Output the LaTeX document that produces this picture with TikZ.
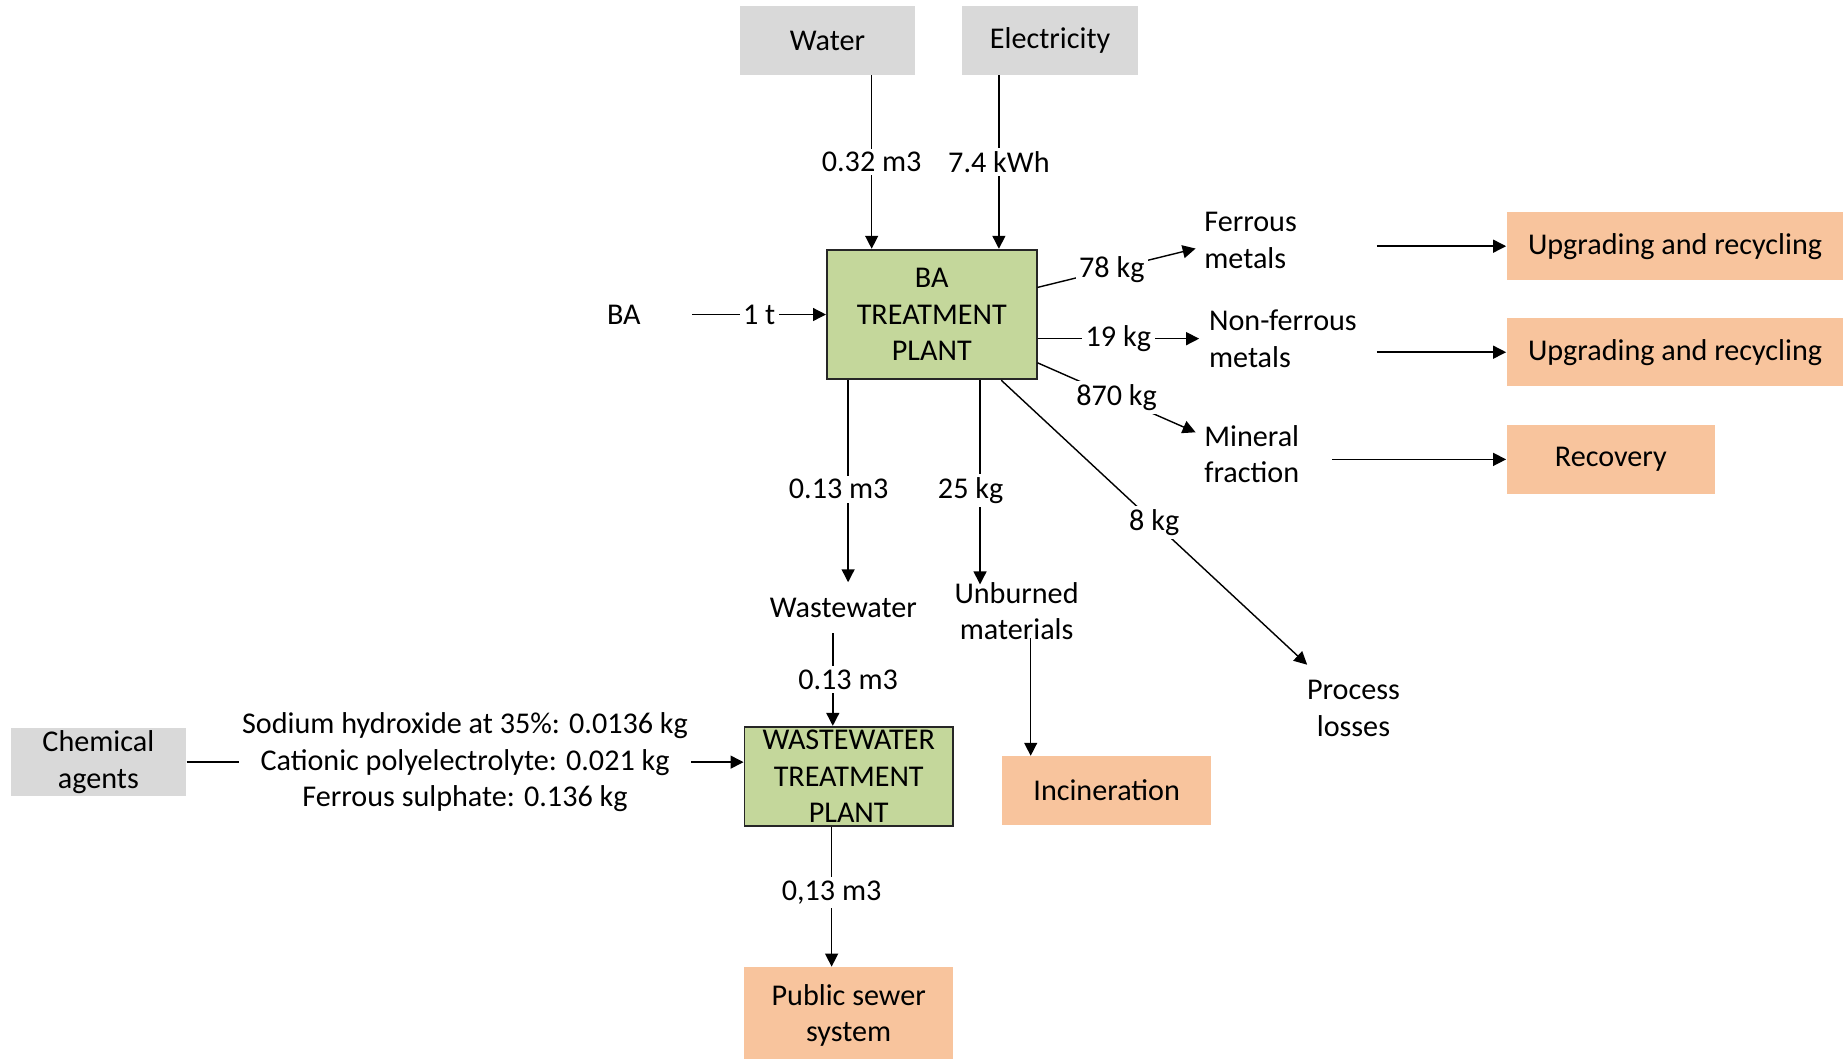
\documentclass[tikz,border=0pt]{standalone}
\usepackage{fontspec}
\setmainfont{Carlito}
\usetikzlibrary{arrows.meta}
\definecolor{inputgray}{HTML}{D9D9D9}
\definecolor{plantgreen}{HTML}{C4D79B}
\definecolor{plantedge}{HTML}{262626}
\definecolor{outorange}{HTML}{F8C49D}
\tikzset{
  inbox/.style={fill=inputgray, minimum width=74.5pt, minimum height=29pt, inner sep=0pt, align=center},
  plantbox/.style={draw=plantedge, fill=plantgreen, line width=0.8pt, inner sep=0pt, align=center},
  outbox/.style={fill=outorange, minimum height=29pt, inner sep=0pt, align=center},
  txt/.style={inner sep=2pt, align=center},
  lefttxt/.style={inner sep=2pt, align=left, anchor=west},
  lbl/.style={fill=white, inner sep=1.5pt},
  flow/.style={-{Triangle[length=5.5pt,width=5.5pt]}, line width=0.6pt}
}
\begin{document}
\begin{tikzpicture}[x=0.5pt,y=0.5pt,yscale=-1,xscale=1,font=\fontsize{12.8pt}{15.5pt}\selectfont]
\useasboundingbox (0,0) rectangle (1568,899);
\node [inbox] (water) at (702.5,34.5) {Water};
\node [inbox] (elec) at (891.5,34.5) {Electricity};
\node [plantbox, minimum width=89pt, minimum height=55pt] (ba) at (791,267) {BA\\TREATMENT\\PLANT};
\node [lefttxt, text width=34pt] (bain) at (511,267) {BA};
\node [lefttxt, text width=71pt] (ferrous) at (1018,204) {Ferrous\\metals};
\node [lefttxt, text width=69pt] (nonfe) at (1022,287.5) {Non-ferrous\\metals};
\node [lefttxt, text width=52pt] (mineral) at (1018,385.5) {Mineral\\fraction};
\node [txt] (loss) at (1149,601.5) {Process\\losses};
\node [txt] (ww) at (716,516) {Wastewater};
\node [txt] (unburned) at (863,519) {Unburned\\materials};
\node [outbox, minimum width=143pt] (up1) at (1422,209) {Upgrading and recycling};
\node [outbox, minimum width=143pt] (up2) at (1422,299) {Upgrading and recycling};
\node [outbox, minimum width=88.5pt] (rec) at (1367.5,390) {Recovery};
\node [outbox, minimum width=88.5pt] (incin) at (939.5,671) {Incineration};
\node [plantbox, minimum width=88.5pt, minimum height=42pt] (wwtp) at (720.5,659) {WASTEWATER\\TREATMENT\\PLANT};
\node [outbox, minimum width=88.5pt, minimum height=41pt] (sewer) at (720.5,862) {Public sewer\\system};
\node [inbox] (chem) at (83.5,647) {Chemical\\agents};

\draw [flow] ([shift={(37.5,0)}]water.south) -- node[lbl]{0.32 m3} ([shift={(-51,0)}]ba.north);
\draw [flow] ([shift={(-43.5,0)}]elec.south) -- node[lbl]{7.4 kWh} ([shift={(57,0)}]ba.north);
\draw [flow] (bain.east) -- node[lbl]{1 t} (ba.west);
\draw [flow] ([shift={(0,-23)}]ba.east) -- node[lbl, pos=0.47]{78 kg} ([shift={(-3,7)}]ferrous.west);
\draw [flow] (ba.east |- nonfe.west) -- node[lbl]{19 kg} ([shift={(-4,0)}]nonfe.west);
\draw [flow] ([shift={(0,41)}]ba.east) -- node[lbl]{870 kg} ([shift={(-3,-18.5)}]mineral.west);
\draw [flow] ([shift={(59,0)}]ba.south) -- node[lbl]{8 kg} ([shift={(4.5,-9)}]loss.north west);
\draw [flow] ([shift={(-71,0)}]ba.south) -- node[lbl, pos=0.54, xshift=-4pt]{0.13 m3} ([shift={(4,-9)}]ww.north);
\draw [flow] ([shift={(41,0)}]ba.south) -- node[lbl, pos=0.54, xshift=-4pt]{25 kg} ([shift={(-31,6)}]unburned.north);
\draw [flow] (ferrous.east |- up1.west) -- (up1.west);
\draw [flow] (nonfe.east |- up2.west) -- (up2.west);
\draw [flow] (mineral.east |- rec.west) -- (rec.west);
\draw [flow] ([shift={(-9,9)}]ww.south) -- node[lbl, xshift=6.5pt]{0.13 m3} ([shift={(-13.5,0)}]wwtp.north);
\draw [flow] ([shift={(12,-6)}]unburned.south) -- ([shift={(-64.5,0)}]incin.north);
\draw [flow] (chem.east) -- node[lbl, align=center]{Sodium hydroxide at 35\%: 0.0136 kg\\Cationic polyelectrolyte: 0.021 kg\\Ferrous sulphate: 0.136 kg} (chem.east -| wwtp.west);
\draw [flow] ([shift={(-14.5,0)}]wwtp.south) -- node[lbl, pos=0.47]{0,13 m3} ([shift={(-14.5,0)}]sewer.north);
\end{tikzpicture}
\end{document}
